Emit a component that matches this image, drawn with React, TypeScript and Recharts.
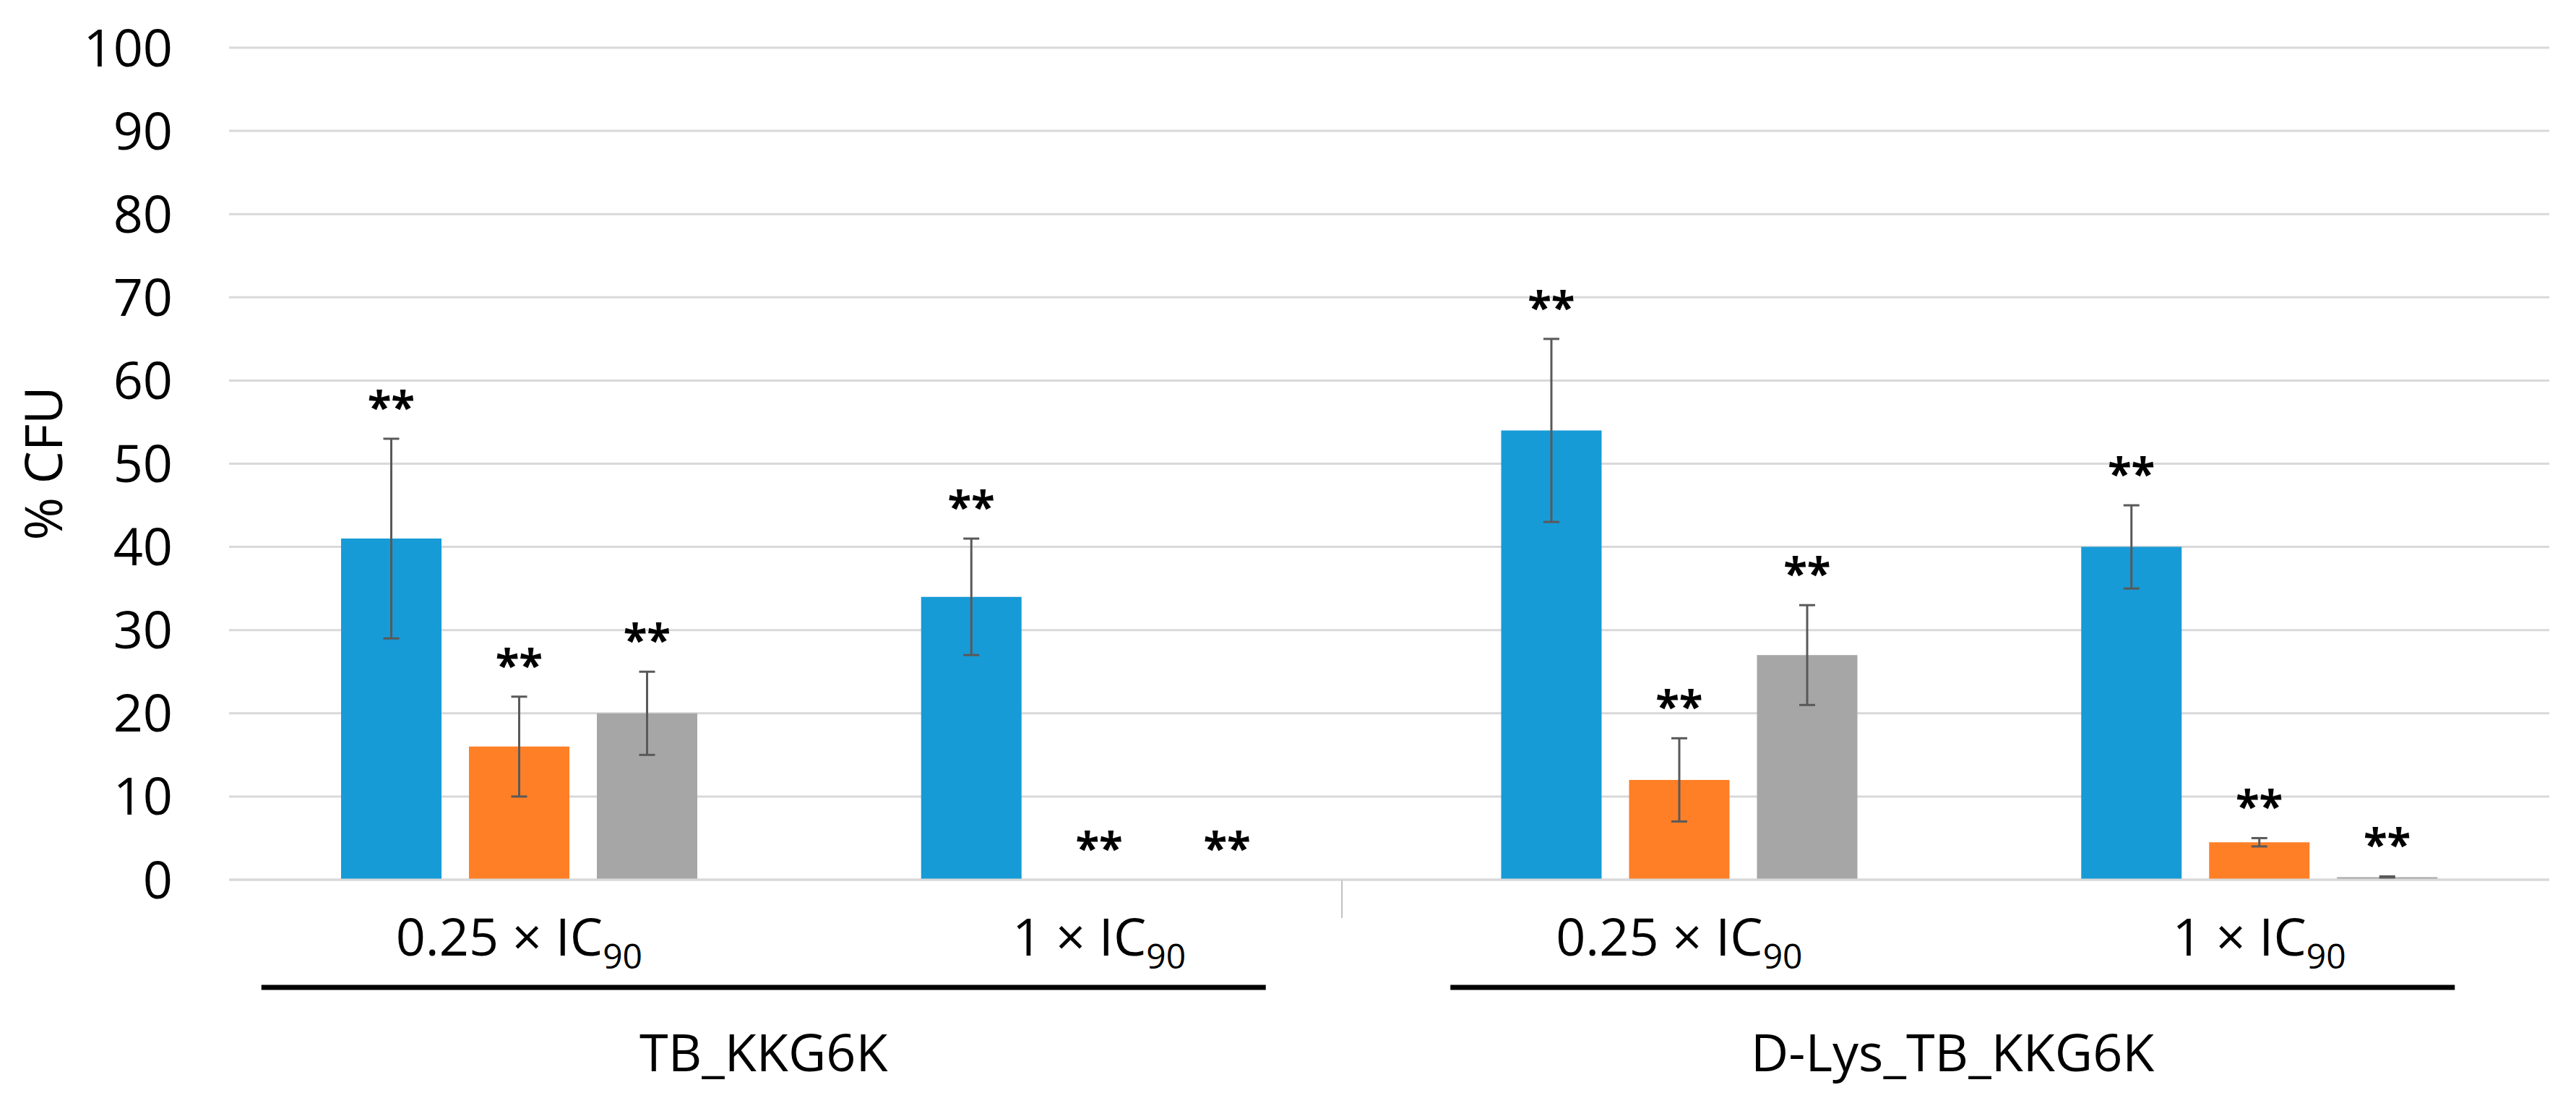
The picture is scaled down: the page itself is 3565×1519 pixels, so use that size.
import { ComposedChart, Bar, Scatter, XAxis, YAxis, CartesianGrid, ErrorBar } from "recharts"

const categories = ["0.25 × IC", "1 × IC", "0.25 × IC", "1 × IC"]
const subscripts = ["90", "90", "90", "90"]
const groups = ["TB_KKG6K", "D-Lys_TB_KKG6K"]

const blue = [41, 34, 54, 40]
const blueErr = [12, 7, 11, 5]
const orange = [16, 0, 12, 4.5]
const orangeErr = [6, 0, 5, 0.5]
const gray = [20, 0, 27, 0.3]
const grayErr = [5, 0, 6, 0.1]
const stars = ["**", "**", "**", "**"]

const yTicks = [0, 10, 20, 30, 40, 50, 60, 70, 80, 90, 100]

const data = categories.map((c, i) => ({
  name: `${c}-${i}`,
  label: c,
  sub: subscripts[i],
  blue: blue[i],
  blueErr: blueErr[i],
  blueTop: blue[i] + blueErr[i],
  orange: orange[i],
  orangeErr: orangeErr[i],
  orangeTop: orange[i] + orangeErr[i],
  gray: gray[i],
  grayErr: grayErr[i],
  grayTop: gray[i] + grayErr[i],
  star: stars[i],
}))

const FONT = "'Open Sans', sans-serif"
const BAR = 139
const GAP = 38
const BAND = 802.75
// hand-placed group underline shifts, as in the source figure
const groupShift = [-63, -23]

// significance marks sit above each error bar; shift picks the bar within the group
function starShape(shift: number) {
  return (props: any) => {
    const { cx, cy, payload } = props
    return (
      <text
        x={cx + shift * (BAR + GAP)}
        y={cy - 22}
        textAnchor="middle"
        fontFamily={FONT}
        fontSize={60}
        fontWeight="bold"
        fill="#000"
      >
        {payload.star}
      </text>
    )
  }
}

function CategoryTick(props: any) {
  const { x, y, payload } = props
  const i = payload.index
  const row = data[i]
  const g = i === 0 ? 0 : i === 2 ? 1 : -1
  return (
    <g>
      <text x={x} y={y + 105} textAnchor="middle" fontFamily={FONT} fontSize={72} fill="#000">
        <tspan>{row.label}</tspan>
        <tspan dy={18} fontSize={48}>{row.sub}</tspan>
      </text>
      {i === 1 && (
        <line x1={x + 336} x2={x + 336} y1={y + 1} y2={y + 53} stroke="#bfbfbf" strokeWidth={2} />
      )}
      {g >= 0 && (
        <g>
          <line
            x1={x + BAND / 2 + groupShift[g] - 695}
            x2={x + BAND / 2 + groupShift[g] + 695}
            y1={y + 149}
            y2={y + 149}
            stroke="#000"
            strokeWidth={7}
          />
          <text
            x={x + BAND / 2 + groupShift[g]}
            y={y + 265}
            textAnchor="middle"
            fontFamily={FONT}
            fontSize={72}
            fill="#000"
          >
            {groups[g]}
          </text>
        </g>
      )}
    </g>
  )
}

export default function App() {
  return (
    <div style={{ position: "absolute", left: 0, top: 0, width: 3565, height: 1519, background: "#fff" }}>
      <ComposedChart
        width={3565}
        height={1519}
        data={data}
        margin={{ top: 66, right: 37, bottom: 0, left: 0 }}
        barSize={BAR}
        barGap={GAP}
      >
        <CartesianGrid vertical={false} stroke="#d9d9d9" strokeWidth={3} />
        <XAxis
          dataKey="name"
          height={302}
          axisLine={{ stroke: "#d9d9d9", strokeWidth: 3 }}
          tickLine={false}
          tickSize={0}
          tickMargin={0}
          interval={0}
          tick={<CategoryTick />}
        />
        <YAxis
          width={317}
          domain={[0, 100]}
          ticks={yTicks}
          axisLine={false}
          tickLine={false}
          tickSize={0}
          tickMargin={78}
          tick={{ fontFamily: FONT, fontSize: 72, fill: "#000" }}
          label={{
            content: () => (
              <text
                transform="translate(58,641) rotate(-90)"
                textAnchor="middle"
                dominantBaseline="central"
                fontFamily={FONT}
                fontSize={72}
                fill="#000"
              >
                % CFU
              </text>
            ),
          }}
        />
        <Bar dataKey="blue" fill="#179bd7" isAnimationActive={false}>
          <ErrorBar dataKey="blueErr" width={11} stroke="#595959" strokeWidth={3} />
        </Bar>
        <Bar dataKey="orange" fill="#ff7f27" isAnimationActive={false}>
          <ErrorBar dataKey="orangeErr" width={11} stroke="#595959" strokeWidth={3} />
        </Bar>
        <Bar dataKey="gray" fill="#a6a6a6" isAnimationActive={false}>
          <ErrorBar dataKey="grayErr" width={11} stroke="#595959" strokeWidth={3} />
        </Bar>
        <Scatter dataKey="blueTop" shape={starShape(-1)} isAnimationActive={false} />
        <Scatter dataKey="orangeTop" shape={starShape(0)} isAnimationActive={false} />
        <Scatter dataKey="grayTop" shape={starShape(1)} isAnimationActive={false} />
      </ComposedChart>
    </div>
  )
}
